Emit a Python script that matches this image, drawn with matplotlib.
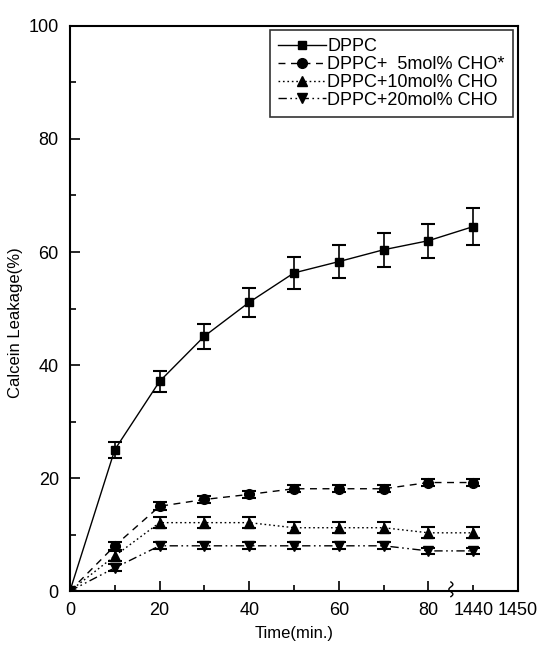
import numpy as np
import matplotlib
matplotlib.use('Agg')
import matplotlib.pyplot as plt
import matplotlib.ticker as ticker

plt.rcParams['font.family'] = ['Liberation Sans', 'DejaVu Sans']

# time points; 1440 min sits after the axis break at position 90
time_labels = ['0', '10', '20', '30', '40', '50', '60', '70', '80', '1440']
x_pos = [0, 10, 20, 30, 40, 50, 60, 70, 80, 90]

dppc = [0, 25.0, 37.1, 45.1, 51.1, 56.3, 58.3, 60.4, 62.0, 64.5]
dppc_err = [0, 1.4, 1.8, 2.2, 2.6, 2.8, 2.9, 3.0, 3.0, 3.3]
cho5 = [0, 8.0, 15.0, 16.2, 17.1, 18.1, 18.1, 18.1, 19.2, 19.2]
cho5_err = [0, 0.7, 0.7, 0.6, 0.6, 0.6, 0.6, 0.6, 0.6, 0.6]
cho10 = [0, 6.2, 12.1, 12.1, 12.1, 11.2, 11.2, 11.2, 10.3, 10.3]
cho10_err = [0, 0.9, 1.0, 1.0, 1.0, 1.0, 1.0, 1.0, 1.0, 1.0]
cho20 = [0, 4.1, 8.0, 8.0, 8.0, 8.0, 8.0, 8.0, 7.1, 7.1]
cho20_err = [0, 0.6, 0.6, 0.6, 0.6, 0.6, 0.6, 0.6, 0.6, 0.6]

xtick_pos = [0, 20, 40, 60, 80, 90, 100]
xtick_labels = ['0', '20', '40', '60', '80', '1440', '1450']

fig = plt.figure(figsize=(5.38, 6.45), dpi=100)
ax = fig.add_axes([0.130, 0.0837, 0.833, 0.876])

series = [
    (dppc, dppc_err, 's', '-', 6, 'DPPC'),
    (cho5, cho5_err, 'o', (0, (5, 4)), 7, 'DPPC+  5mol% CHO*'),
    (cho10, cho10_err, '^', (0, (1.2, 2)), 7, 'DPPC+10mol% CHO'),
    (cho20, cho20_err, 'v', (0, (6, 2.5, 1.2, 2.5, 1.2, 2.5)), 7, 'DPPC+20mol% CHO'),
]
handles, labels = [], []
for y, err, mk, ls, ms, lab in series:
    c = ax.errorbar(x_pos, y, yerr=err, color='black', marker=mk, markersize=ms,
                    linestyle=ls, linewidth=1.0, elinewidth=1.2, capsize=5,
                    capthick=1.5)
    handles.append(c[0])
    labels.append(lab)

ax.set_xlim(0, 100)
ax.set_ylim(0, 100)
ax.xaxis.set_major_locator(ticker.FixedLocator(xtick_pos))
ax.set_xticklabels(xtick_labels)
ax.xaxis.set_minor_locator(ticker.FixedLocator([10, 30, 50, 70]))
ax.yaxis.set_major_locator(ticker.MultipleLocator(20))
ax.yaxis.set_minor_locator(ticker.MultipleLocator(10))
ax.tick_params(which='both', direction='in', top=False, right=False,
               labelsize=13, pad=8, width=1.2)
ax.tick_params(which='major', length=7)
ax.tick_params(which='minor', length=4)
# short tick at 1440, none at 1450
xt = ax.xaxis.get_major_ticks()
xt[5].tick1line.set_markersize(4)
xt[6].tick1line.set_markersize(0)

for s in ax.spines.values():
    s.set_linewidth(1.5)

# axis break squiggle
t = np.linspace(0, 1, 30)
ax.plot(85 + 0.45 * np.sin(t * 2 * np.pi * 1.5), -1.0 + 2.6 * t,
        color='black', linewidth=1.0, clip_on=False, zorder=5)

ax.set_xlabel('Time(min.)', fontsize=12, labelpad=5)
ax.set_ylabel('Calcein Leakage(%)', fontsize=12)
ax.yaxis.set_label_coords(-0.105, 0.475)

leg = ax.legend(handles, labels, loc='upper right', bbox_to_anchor=(0.988, 0.993),
                fontsize=13, frameon=True, fancybox=False, edgecolor='black',
                borderaxespad=0, borderpad=0.45, labelspacing=0.05,
                handlelength=2.65, handletextpad=0.05)
leg.get_frame().set_linewidth(1.2)

plt.savefig('out.png', dpi=100)
